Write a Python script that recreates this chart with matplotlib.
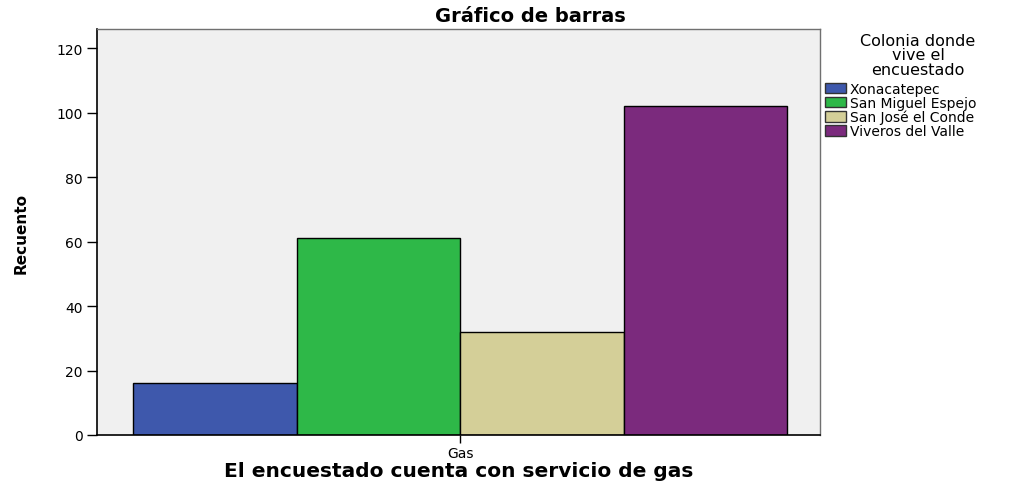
import matplotlib
matplotlib.use("Agg")
from matplotlib import pyplot as plt
from matplotlib.patches import Patch

# recuento por colonia, servicio de gas
colonias = ['Xonacatepec', 'San Miguel Espejo', 'San José el Conde', 'Viveros del Valle']
recuento = [16, 61, 32, 102]
colores = ['#3E58AC', '#2EB848', '#D4CF98', '#7B2A7D']
categoria = 'Gas'
titulo_leyenda = 'Colonia donde\nvive el\nencuestado'

plt.rcParams['font.family'] = ['DejaVu Sans']

fig = plt.figure(figsize=(10.13, 4.85), dpi=100)
ax = fig.add_axes([97 / 1013, 49 / 485, 723 / 1013, 406 / 485])
ax.set_facecolor('#F0F0F0')

ancho = 1.0
n = len(recuento)
for i, (v, c) in enumerate(zip(recuento, colores)):
    x = (i - (n - 1) / 2) * ancho
    ax.bar(x, v, width=ancho, color=c, edgecolor='black', linewidth=1.0)

ax.set_xlim(-2.22, 2.2)
ax.set_ylim(0, 126)
ax.set_yticks(range(0, 121, 20))
ax.set_xticks([0])
ax.set_xticklabels([categoria])
ax.tick_params(axis='both', direction='out', length=7, width=1, labelsize=10, colors='black')
ax.tick_params(axis='x', length=6, pad=2)

for s in ['left', 'bottom']:
    ax.spines[s].set_linewidth(1.2)
    ax.spines[s].set_color('black')
for s in ['top', 'right']:
    ax.spines[s].set_linewidth(1.0)
    ax.spines[s].set_color('#707070')

fig.text(530 / 1013, 1 - 16 / 485, 'Gráfico de barras', fontsize=14, fontweight='bold',
         ha='center', va='center')
ax.set_xlabel('El encuestado cuenta con servicio de gas', fontsize=14.5, fontweight='bold', labelpad=1)
ax.set_ylabel('Recuento', fontsize=11, fontweight='bold', labelpad=20)

# titulo de la leyenda aparte, centrado sobre las entradas
fig.text(918 / 1013, 1 - 56 / 485, titulo_leyenda, fontsize=11.5, ha='center', va='center',
         multialignment='center', linespacing=0.95)

handles = [Patch(facecolor=c, edgecolor='#333333', label=l) for c, l in zip(colores, colonias)]
leg = fig.legend(handles=handles, loc='upper left', bbox_to_anchor=(822 / 1013, 1 - 80 / 485),
                 frameon=False, fontsize=10,
                 handlelength=1.5, handleheight=0.75, handletextpad=0.3,
                 labelspacing=0.0, borderpad=0.2, borderaxespad=0)

fig.savefig('out.png', dpi=100)
